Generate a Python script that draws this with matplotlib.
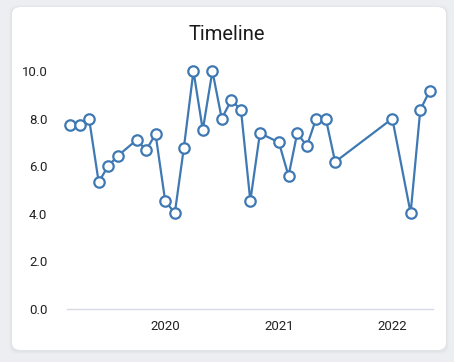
import numpy as np
import pandas as pd
import matplotlib.pyplot as plt
import matplotlib.dates as mdates
from matplotlib.patches import FancyBboxPatch

# data
dates = [
    "2019-03-01", "2019-04-01", "2019-05-01", "2019-06-01", "2019-07-01",
    "2019-08-01", "2019-10-01", "2019-11-01", "2019-12-01", "2020-01-01",
    "2020-02-01", "2020-03-01", "2020-04-01", "2020-05-01", "2020-06-01",
    "2020-07-01", "2020-08-01", "2020-09-01", "2020-10-01", "2020-11-01",
    "2021-01-01", "2021-02-01", "2021-03-01", "2021-04-01", "2021-05-01",
    "2021-06-01", "2021-07-01", "2022-01-01", "2022-03-01", "2022-04-01",
    "2022-05-01",
]
values = [
    7.73, 7.73, 8.0, 5.33, 6.0, 6.43, 7.1, 6.68, 7.35, 4.54,
    4.03, 6.76, 10.0, 7.52, 10.0, 8.0, 8.78, 8.36, 4.54, 7.39,
    7.0, 5.59, 7.39, 6.85, 8.0, 8.0, 6.18, 8.0, 4.03, 8.36,
    9.16,
]
title = "Timeline"
yticks = [0, 2, 4, 6, 8, 10]

x = pd.to_datetime(dates)

plt.rcParams['font.family'] = ['Roboto', 'DejaVu Sans']

fig = plt.figure(figsize=(4.54, 3.62), dpi=100)
fig.patch.set_facecolor("#eceef1")

# card with soft shadow
W, H = 454, 362
for i, a in enumerate([0.05, 0.04, 0.03]):
    d = (i + 1) * 1.0
    shadow = FancyBboxPatch(((12 - d) / W, (12 - d - 1) / H),
                            (434 + 2 * d) / W, (343 + 2 * d) / H,
                            boxstyle="round,pad=0,rounding_size=0.02",
                            transform=fig.transFigure, facecolor="#9aa0aa",
                            edgecolor="none", alpha=a, zorder=0)
    fig.patches.append(shadow)
card = FancyBboxPatch((12 / W, 12 / H), 434 / W, 343 / H,
                      boxstyle="round,pad=0,rounding_size=0.02",
                      transform=fig.transFigure, facecolor="white",
                      edgecolor="none", zorder=1)
fig.patches.append(card)

ax = fig.add_axes([67 / W, 53 / H, (433 - 67) / W, (309 - 71) / H])
ax.set_zorder(2)
ax.set_facecolor("none")
ax.plot(x, values, color="#3f79b3", linewidth=1.6, marker="o", markersize=7.5,
        markerfacecolor="white", markeredgecolor="#3f79b3", markeredgewidth=1.6,
        clip_on=False, zorder=3)

ax.set_ylim(0, 10)
ax.set_yticks(yticks)
ax.set_yticklabels([f"{v:.1f}" for v in yticks])
ax.set_xlim(pd.Timestamp("2019-02-19"), pd.Timestamp("2022-05-12"))
ax.xaxis.set_major_locator(mdates.YearLocator())
ax.xaxis.set_major_formatter(mdates.DateFormatter("%Y"))

for s in ["top", "right", "left"]:
    ax.spines[s].set_visible(False)
ax.spines["bottom"].set_color("#d7dbe6")
ax.spines["bottom"].set_linewidth(1.0)
ax.tick_params(axis="both", length=0, labelsize=9.5, colors="#222222")
ax.tick_params(axis="y", pad=14)
ax.tick_params(axis="x", pad=8)

fig.text(0.5, (362 - 34) / H, title, ha="center", va="center", fontsize=14.5,
         color="#1a1a1a", zorder=5)

fig.savefig("out.png", dpi=100)
